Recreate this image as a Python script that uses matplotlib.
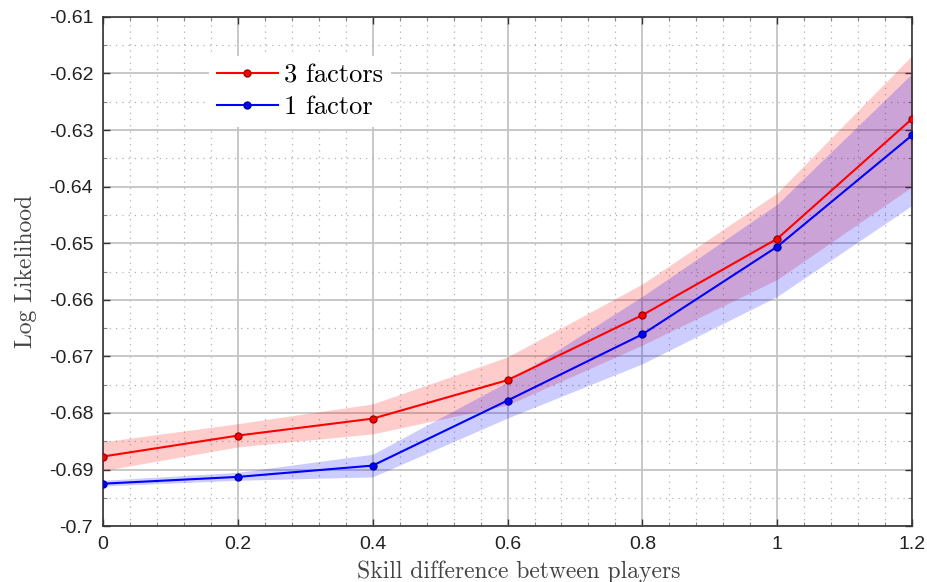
"""
Log likelihood vs skill difference, 3 factors vs 1 factor
"""

import numpy as np
import matplotlib
matplotlib.use('Agg')
import matplotlib.pyplot as plt
from matplotlib.ticker import MultipleLocator

# data
skill_diff = [0.0, 0.2, 0.4, 0.6, 0.8, 1.0, 1.2]

three_mean = [-0.6877, -0.6840, -0.6810, -0.6742, -0.6627, -0.6492, -0.6280]
three_low = [-0.6902, -0.6860, -0.6837, -0.6786, -0.6680, -0.6564, -0.6400]
three_high = [-0.6851, -0.6819, -0.6784, -0.6701, -0.6572, -0.6411, -0.6168]

one_mean = [-0.6925, -0.6913, -0.6893, -0.6778, -0.6661, -0.6506, -0.6309]
one_low = [-0.6929, -0.6919, -0.6913, -0.6809, -0.6713, -0.6594, -0.6433]
one_high = [-0.6919, -0.6905, -0.6873, -0.6745, -0.6594, -0.6431, -0.6200]

plt.rcParams['axes.unicode_minus'] = False

fig = plt.figure(figsize=(9.27, 5.82), dpi=100)
ax = fig.add_axes([0.111, 0.096, 0.873, 0.875])

# bands
ax.fill_between(skill_diff, three_low, three_high, color='red', alpha=0.2, linewidth=0, zorder=2)
ax.fill_between(skill_diff, one_low, one_high, color='blue', alpha=0.2, linewidth=0, zorder=2)

# mean lines
ax.plot(skill_diff, three_mean, '-o', color='red', linewidth=1.5, markersize=5,
        markerfacecolor='red', markeredgecolor='#a00000', label='3 factors', zorder=3)
ax.plot(skill_diff, one_mean, '-o', color='blue', linewidth=1.5, markersize=5,
        markerfacecolor='blue', markeredgecolor='#0000a0', label='1 factor', zorder=3)

ax.set_xlim(0, 1.2)
ax.set_ylim(-0.70, -0.61)
ax.set_xticks(skill_diff)
ax.set_xticklabels(['0', '0.2', '0.4', '0.6', '0.8', '1', '1.2'])
yt = np.round(np.arange(-0.70, -0.6099, 0.01), 2)
ax.set_yticks(yt)
ax.set_yticklabels(['-0.7' if v == -0.7 else '{:.2f}'.format(v) for v in yt])
ax.xaxis.set_minor_locator(MultipleLocator(0.04))
ax.yaxis.set_minor_locator(MultipleLocator(0.005))

ax.grid(True, which='major', color='#c4c4c4', linewidth=1.3, linestyle='-', zorder=0)
ax.grid(True, which='minor', color='#b0b0b0', linewidth=0.9, linestyle=(0, (1, 4)), zorder=0)
ax.set_axisbelow(True)

ax.tick_params(which='both', direction='in', top=True, right=True)
ax.tick_params(which='major', length=5, width=1, colors='#333333', labelsize=14, pad=7)
ax.tick_params(which='minor', length=3, width=0.8, colors='#888888')
for lab in ax.get_xticklabels() + ax.get_yticklabels():
    lab.set_family('Liberation Sans')
    lab.set_color('#222222')
for sp in ax.spines.values():
    sp.set_color('#333333')
    sp.set_linewidth(1.2)

ax.set_xlabel('Skill difference between players', fontsize=17, family='cmr10', color='#444444', labelpad=6)
ax.xaxis.set_label_coords(0.514, -0.068)
ax.set_ylabel('Log Likelihood', fontsize=17, family='cmr10', color='#444444', labelpad=8)

leg = ax.legend(loc='upper left', bbox_to_anchor=(0.115, 0.95), prop={'family': 'cmr10', 'size': 19},
                frameon=True, fancybox=False, framealpha=1, edgecolor='none', facecolor='white',
                handlelength=2.3, handletextpad=0.25, labelspacing=0.3, borderpad=0.3)

plt.savefig('out.png', dpi=100)
